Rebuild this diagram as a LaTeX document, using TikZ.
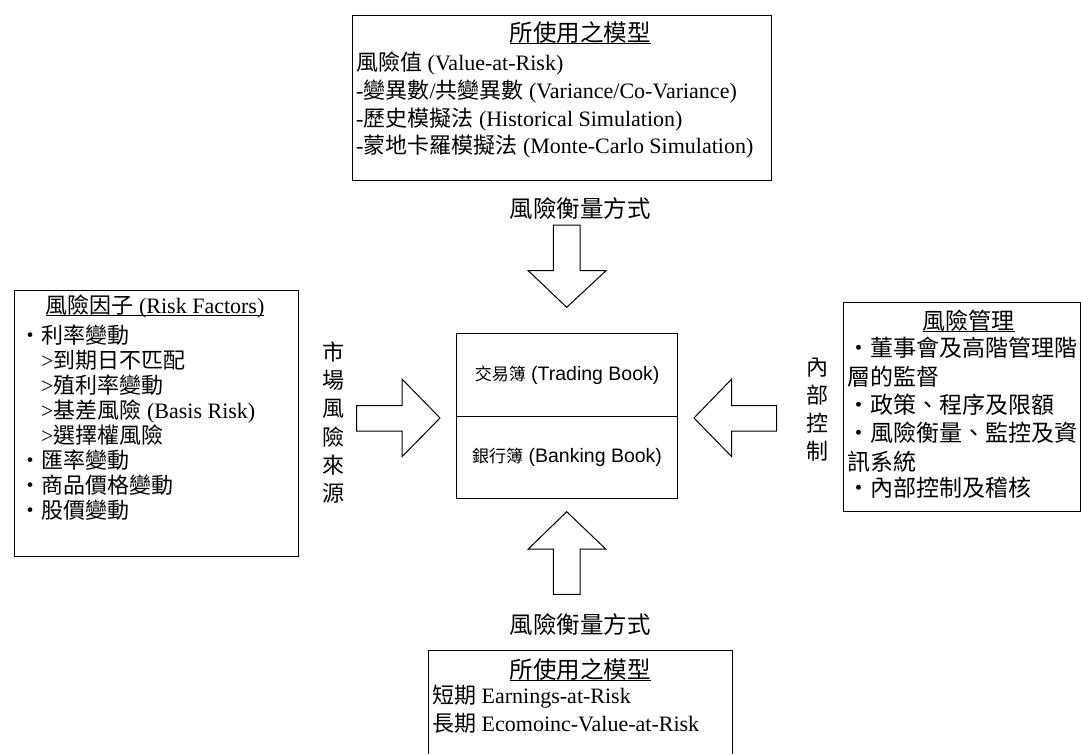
\documentclass[tikz,border=0pt]{standalone}
\usepackage{fontspec}
\setmainfont{Liberation Serif}
\newfontfamily\cjk{Noto Sans CJK TC}
\newfontfamily\arialf{Liberation Sans}
\newcommand\zh[1]{{\cjk #1}}
\newcommand\myul[1]{\setbox0=\hbox{#1}\rlap{\rule[-2.6pt]{\wd0}{1.1pt}}\box0}
\begin{document}
\begin{tikzpicture}[x=1pt,y=-1pt,
  box/.style={draw, line width=1.2pt, inner sep=0pt, anchor=north west},
  ln/.style={anchor=base west, inner sep=0pt, font=\fontsize{22}{26}\selectfont},
  lnr/.style={anchor=base west, inner sep=0pt, font=\fontsize{23}{27}\selectfont},
  ttl/.style={anchor=base, inner sep=0pt, font=\fontsize{23.5}{27}\selectfont},
  vch/.style={anchor=base, inner sep=0pt, font=\fontsize{22}{26}\selectfont\cjk},
  bookbox/.style={draw, line width=1.2pt, inner sep=0pt, minimum width=221pt, minimum height=82.5pt, font=\fontsize{19.5}{22}\selectfont\arialf},
  blk/.style={draw, line width=1pt, fill=white, line join=miter}]
\useasboundingbox (0,0) rectangle (1081,753);
\clip (0,0) rectangle (1081,753);

% ---------- top box ----------
\node[box, minimum width=419pt, minimum height=165pt] (topbox) at (352,15) {};
\node[ttl] (toptitle) at (580,41) {\myul{\zh{所使用之模型}}};
\node[ln] (top1) at (356,70.4) {\zh{風險值} (Value-at-Risk)};
\node[ln] (top2) at (356,98.2) {-\zh{變異數}/\zh{共變異數} (Variance/Co-Variance)};
\node[ln] (top3) at (356,126) {-\zh{歷史模擬法} (Historical Simulation)};
\node[ln] (top4) at (356,153.8) {-\zh{蒙地卡羅模擬法} (Monte-Carlo Simulation)};
\node[ttl] (toplabel) at (580,217.7) {\zh{風險衡量方式}};

% ---------- left box ----------
\node[box, minimum width=284pt, minimum height=266pt] (leftbox) at (14,290) {};
\node[anchor=base, inner sep=0pt, font=\fontsize{22}{26}\selectfont] (lefttitle) at (155,313.5) {\myul{\zh{風險因子} (Risk Factors)}};
\node[ln] (l1) at (19,343.4) {\zh{・利率變動}};
\node[ln] (l2) at (41,368.4) {>\zh{到期日不匹配}};
\node[ln] (l3) at (41,393.4) {>\zh{殖利率變動}};
\node[ln] (l4) at (41,418.4) {>\zh{基差風險} (Basis Risk)};
\node[ln] (l5) at (41,443.4) {>\zh{選擇權風險}};
\node[ln] (l6) at (19,468.4) {\zh{・匯率變動}};
\node[ln] (l7) at (19,493.4) {\zh{・商品價格變動}};
\node[ln] (l8) at (19,518.4) {\zh{・股價變動}};

% left vertical label
\node[vch] (v1) at (333,360.4) {市};
\node[vch] (v2) at (333,388.6) {場};
\node[vch] (v3) at (333,416.8) {風};
\node[vch] (v4) at (333,445.0) {險};
\node[vch] (v5) at (333,473.2) {來};
\node[vch] (v6) at (333,501.4) {源};

% ---------- right box ----------
\node[box, minimum width=237pt, minimum height=209pt] (rightbox) at (843,302) {};
\node[anchor=base, inner sep=0pt, font=\fontsize{23}{27}\selectfont] (righttitle) at (968.5,329.7) {\myul{\zh{風險管理}}};
\node[lnr] (r1) at (847,356.7) {\zh{・董事會及高階管理階}};
\node[lnr] (r2) at (847,385.7) {\zh{層的監督}};
\node[lnr] (r3) at (847,413.7) {\zh{・政策、程序及限額}};
\node[lnr] (r4) at (847,441.7) {\zh{・風險衡量、監控及資}};
\node[lnr] (r5) at (847,470.7) {\zh{訊系統}};
\node[lnr] (r6) at (847,496.7) {\zh{・內部控制及稽核}};

% right vertical label
\node[vch] (w1) at (817.5,375.4) {內};
\node[vch] (w2) at (817.5,403.4) {部};
\node[vch] (w3) at (817.5,431.4) {控};
\node[vch] (w4) at (817.5,459.4) {制};

% ---------- center boxes ----------
\node[bookbox, anchor=north west] (trading) at (456,333) {{\fontsize{17}{20}\selectfont\cjk 交易簿} (Trading Book)};
\node[bookbox, anchor=north west] (banking) at (456,415.5) {{\fontsize{17}{20}\selectfont\cjk 銀行簿} (Banking Book)};

% ---------- block arrows ----------
\draw[blk] (356.5,405.5) -- (402,405.5) -- (402,379) -- (440,418) -- (402,456.7) -- (402,431) -- (356.5,431) -- cycle;
\draw[blk] (776.7,405.5) -- (731.7,405.5) -- (731.7,379) -- (694,418) -- (731.7,456.7) -- (731.7,431) -- (776.7,431) -- cycle;
\draw[blk] (553.3,225) -- (580,225) -- (580,270.7) -- (606,270.7) -- (566.7,307.3) -- (528.3,270.7) -- (553.3,270.7) -- cycle;
\draw[blk] (553.3,594.3) -- (580,594.3) -- (580,549) -- (605.7,549) -- (566.7,511.7) -- (528.3,549) -- (553.3,549) -- cycle;

% ---------- bottom box ----------
\node[ttl] (botlabel) at (580,633.7) {\zh{風險衡量方式}};
\node[box, minimum width=304pt, minimum height=130pt] (botbox) at (428,650) {};
\node[ttl] (bottitle) at (580,678.7) {\myul{\zh{所使用之模型}}};
\node[ln] (b1) at (432,703.4) {\zh{短期} Earnings-at-Risk};
\node[ln] (b2) at (432,731.4) {\zh{長期} Ecomoinc-Value-at-Risk};
\end{tikzpicture}
\end{document}
